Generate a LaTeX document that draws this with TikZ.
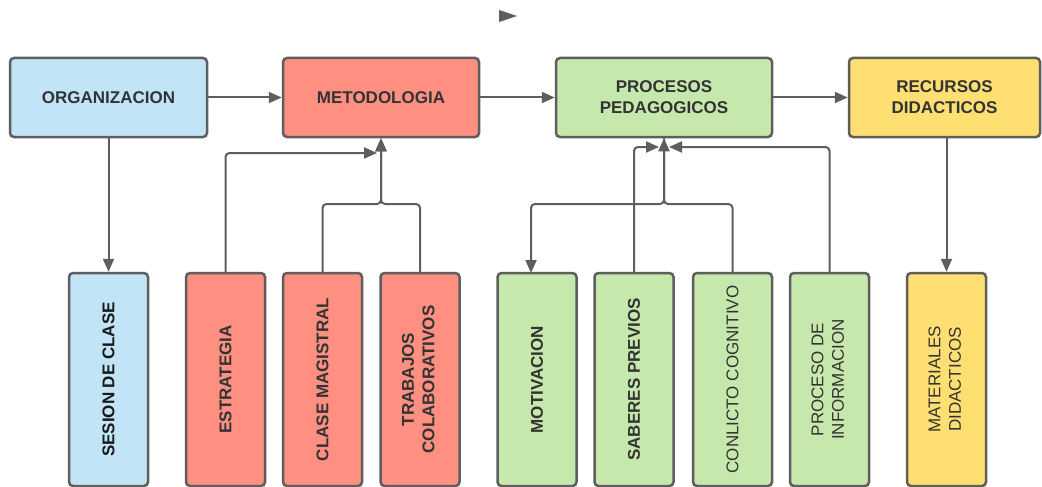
\documentclass[tikz,border=0pt]{standalone}
\usepackage{fontspec}
\setmainfont{Liberation Sans}
\usetikzlibrary{arrows.meta}
\definecolor{lblue}{HTML}{C1E4F7}
\definecolor{lred}{HTML}{FF8F80}
\definecolor{lgreen}{HTML}{C7E8AC}
\definecolor{lyellow}{HTML}{FFDF71}
\definecolor{edgec}{HTML}{5E5E5E}
\definecolor{txt}{HTML}{333333}
\begin{document}
\begin{tikzpicture}[x=1pt,y=-1pt,
  topbox/.style={draw=edgec, line width=2.5pt, rounded corners=4pt, minimum height=79pt,
    inner sep=0pt, text=txt, font=\fontsize{17}{21}\selectfont\bfseries, align=center},
  botbox/.style={draw=edgec, line width=2.5pt, rounded corners=4pt, minimum width=79pt,
    minimum height=213pt, inner sep=0pt, text=txt, font=\fontsize{17}{20.7}\selectfont},
  conn/.style={draw=edgec, line width=2pt, rounded corners=4pt},
  arr/.style={conn, -{Triangle[length=13pt,width=11pt]}},
]
\useasboundingbox[fill=white] (0,0) rectangle (1042,487);

% stray arrowhead
\fill[edgec] (499,10) -- (517,16) -- (499,22) -- cycle;

% top row
\node[topbox, fill=lblue, minimum width=197pt] (org) at (108.5,97.5) {ORGANIZACION};
\node[topbox, fill=lred, minimum width=196pt] (met) at (381,97.5) {METODOLOGIA};
\node[topbox, fill=lgreen, minimum width=216pt] (proc) at (664,97.5) {PROCESOS\\PEDAGOGICOS};
\node[topbox, fill=lyellow, minimum width=191pt] (rec) at (944.5,97.5) {RECURSOS\\DIDACTICOS};

% bottom row
\node[botbox, fill=lblue] (sesion) at (108.5,379.5) {\rotatebox{90}{\color{black!90}\bfseries SESION DE CLASE}};
\node[botbox, fill=lred] (estr) at (225.5,379.5) {\rotatebox{90}{\bfseries ESTRATEGIA}};
\node[botbox, fill=lred] (clase) at (322.5,379.5) {\rotatebox{90}{\bfseries CLASE MAGISTRAL}};
\node[botbox, fill=lred] (trab) at (420,379.5) {\rotatebox{90}{\bfseries\begin{tabular}{@{}c@{}}TRABAJOS\\COLABORATIVOS\end{tabular}}};
\node[botbox, fill=lgreen] (motiv) at (537,379.5) {\rotatebox{90}{\bfseries MOTIVACION}};
\node[botbox, fill=lgreen] (sab) at (634,379.5) {\rotatebox{90}{\bfseries SABERES PREVIOS}};
\node[botbox, fill=lgreen] (conf) at (732.5,379.5) {\rotatebox{90}{CONLICTO COGNITIVO}};
\node[botbox, fill=lgreen] (pinf) at (829.5,379.5) {\rotatebox{90}{\begin{tabular}{@{}c@{}}PROCESO DE\\INFORMACION\end{tabular}}};
\node[botbox, fill=lyellow] (mat) at (946.5,379.5) {\rotatebox{90}{\begin{tabular}{@{}c@{}}MATERIALES\\DIDACTICOS\end{tabular}}};

% helper coordinates
\coordinate (mtip) at (377,153);
\coordinate (mjoin) at (381,204);
\coordinate (stipl) at (659,147);
\coordinate (stipr) at (669,147);
\coordinate (pjoin) at (664,204);
\coordinate (mottop) at (531,273);

% top connectors
\draw[arr] (org) -- (met);
\draw[arr] (met) -- (proc);
\draw[arr] (proc) -- (rec);
\draw[arr] (org) -- (sesion);
\draw[arr] (rec.south -| mat.north) -- (mat.north);

% metodologia group
\draw[arr] (estr.north) |- (mtip);
\draw[arr] (clase.north) |- (mjoin) -- (met.south);
\draw[arr] (trab.north) |- (mjoin) -- (met.south);

% procesos group
\draw[arr] (sab.north) |- (stipl);
\draw[arr] (pinf.north) |- (stipr);
\draw[arr] (conf.north) |- (pjoin) -- (proc.south);
\draw[arr] (proc.south) -- (pjoin) -| (mottop);
\end{tikzpicture}
\end{document}
